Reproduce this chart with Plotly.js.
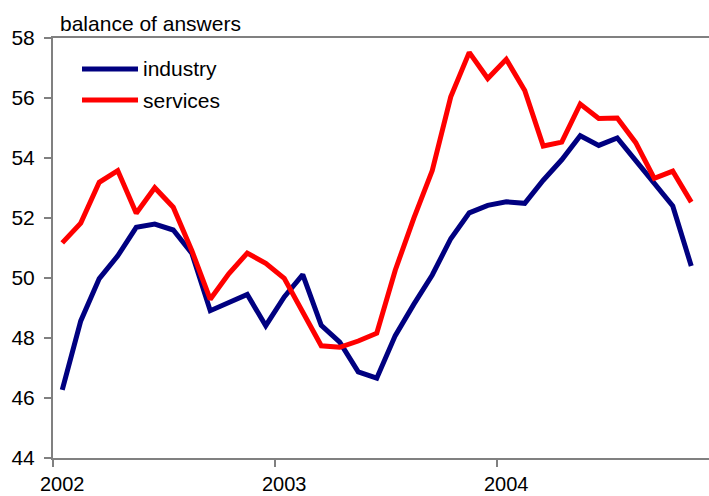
<!DOCTYPE html>
<html>
<head>
<meta charset="utf-8">
<script src="https://cdn.plot.ly/plotly-3.0.1.min.js"></script>
<style>html,body{margin:0;padding:0;background:#fff;}#chart{width:709px;height:496px;}</style>
</head>
<body>
<div id="chart"></div>
<script>
var months = ["2002-01","2002-02","2002-03","2002-04","2002-05","2002-06","2002-07","2002-08","2002-09","2002-10","2002-11","2002-12",
              "2003-01","2003-02","2003-03","2003-04","2003-05","2003-06","2003-07","2003-08","2003-09","2003-10","2003-11","2003-12",
              "2004-01","2004-02","2004-03","2004-04","2004-05","2004-06","2004-07","2004-08","2004-09","2004-10","2004-11"];
var industry = [46.27, 48.57, 49.98, 50.74, 51.69, 51.80, 51.60, 50.83, 48.91, 49.16, 49.45, 48.41,
                49.37, 50.11, 48.42, 47.86, 46.87, 46.66, 48.08, 49.12, 50.10, 51.31, 52.17, 52.42,
                52.54, 52.49, 53.26, 53.94, 54.74, 54.42, 54.67, 53.91, 53.16, 52.40, 50.40];
var services = [51.17, 51.83, 53.19, 53.58, 52.16, 53.01, 52.36, 50.92, 49.29, 50.14, 50.83, 50.49,
                49.99, 48.88, 47.74, 47.69, 47.90, 48.16, 50.26, 51.99, 53.58, 56.04, 57.52, 56.65,
                57.29, 56.25, 54.40, 54.53, 55.80, 55.32, 55.33, 54.51, 53.32, 53.56, 52.53];
var yearLabels = ["2002", "2003", "2004"];
var yTicks = [44, 46, 48, 50, 52, 54, 56, 58];

var xpos = months.map(function (m, i) { return i + 0.5; });
var yearStarts = yearLabels.map(function (y) { return months.indexOf(y + "-01"); });

var font = "Liberation Sans, Arial, sans-serif";
var traces = [
  {x: xpos, y: industry, name: "industry", type: "scatter", mode: "lines",
   line: {color: "#000080", width: 5}},
  {x: xpos, y: services, name: "services", type: "scatter", mode: "lines",
   line: {color: "#FF0000", width: 5}}
];

var layout = {
  width: 709, height: 496,
  margin: {l: 53, r: 0, t: 38, b: 38, pad: 0},
  paper_bgcolor: "#fff", plot_bgcolor: "#fff",
  showlegend: false,
  font: {family: font, size: 20, color: "#000"},
  xaxis: {
    range: [0, 656 / 18.5],
    showgrid: false, zeroline: false,
    showline: true, linecolor: "#808080", linewidth: 2, mirror: true,
    tickmode: "array",
    tickvals: yearStarts.map(function (s) { return s + 0.5; }),
    ticktext: yearLabels,
    ticks: "outside", ticklen: 7, tickcolor: "rgba(0,0,0,0)",
    ticklabelstandoff: 0,
    tickfont: {family: font, size: 20, color: "#000"},
    minor: {tickmode: "array", tickvals: yearStarts, ticks: "outside", ticklen: 7,
            tickwidth: 2, tickcolor: "#808080", showgrid: false}
  },
  yaxis: {
    range: [44, 58],
    showgrid: false, zeroline: false,
    showline: true, linecolor: "#808080", linewidth: 2,
    tickmode: "array", tickvals: yTicks,
    ticks: "outside", ticklen: 7, tickwidth: 2, tickcolor: "#808080",
    ticklabelstandoff: 5,
    tickfont: {family: font, size: 21, color: "#000"}
  },
  annotations: [
    {text: "balance of answers", xref: "paper", yref: "paper", x: 0, y: 1,
     xanchor: "left", yanchor: "bottom", xshift: 5, yshift: 1, showarrow: false,
     font: {family: font, size: 21, color: "#000"}},
    {text: "industry", xref: "paper", yref: "paper", x: (141 - 53) / 656, y: (458 - 69) / 420,
     xanchor: "left", yanchor: "middle", showarrow: false,
     font: {family: font, size: 21, color: "#000"}},
    {text: "services", xref: "paper", yref: "paper", x: (141 - 53) / 656, y: (458 - 100) / 420,
     xanchor: "left", yanchor: "middle", showarrow: false,
     font: {family: font, size: 21, color: "#000"}}
  ],
  shapes: [
    {type: "line", xref: "paper", yref: "paper", x0: (82 - 53) / 656, x1: (138 - 53) / 656,
     y0: (458 - 69) / 420, y1: (458 - 69) / 420, line: {color: "#000080", width: 5}},
    {type: "line", xref: "paper", yref: "paper", x0: (82 - 53) / 656, x1: (138 - 53) / 656,
     y0: (458 - 100) / 420, y1: (458 - 100) / 420, line: {color: "#FF0000", width: 5}}
  ]
};

Plotly.newPlot("chart", traces, layout, {displayModeBar: false, staticPlot: true});
</script>
</body>
</html>
